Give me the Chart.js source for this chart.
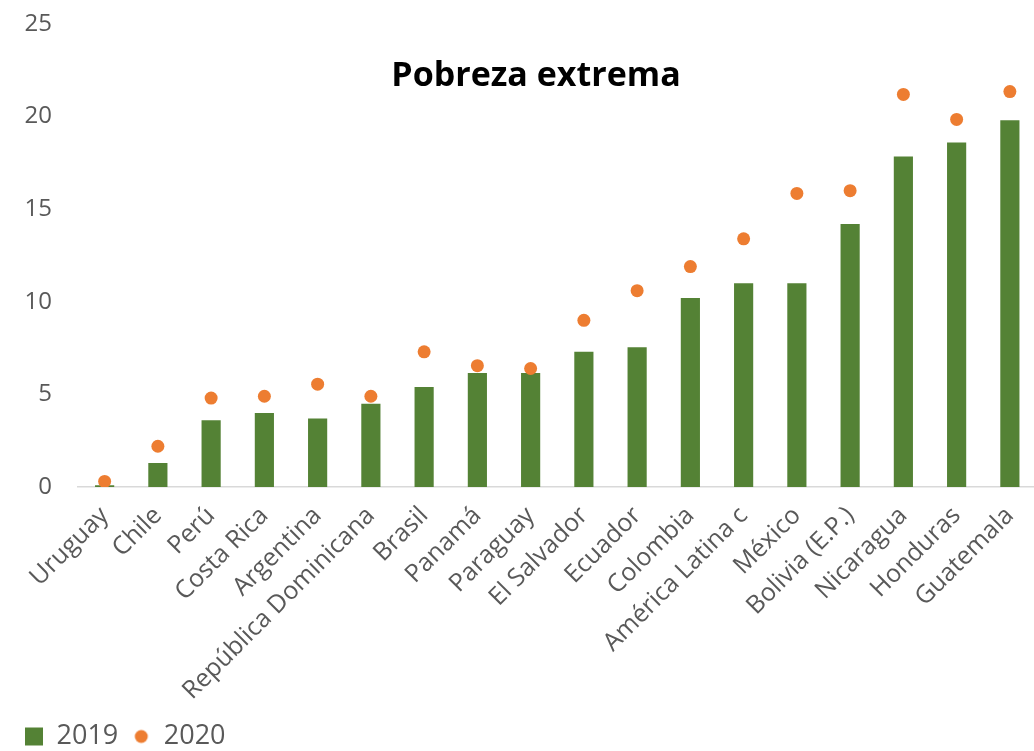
<!DOCTYPE html>
<html>
<head>
<meta charset="utf-8">
<script src="https://cdn.jsdelivr.net/npm/chart.js@4/dist/chart.umd.min.js"></script>
<style>
  html, body { margin: 0; padding: 0; background: #fff; overflow: hidden; }
  #wrap { width: 1043px; height: 751px; position: relative; }
</style>
</head>
<body>
<div id="wrap"><canvas id="chart"></canvas></div>
<script>
// Data
const countries = ["Uruguay", "Chile", "Perú", "Costa Rica", "Argentina", "República Dominicana",
  "Brasil", "Panamá", "Paraguay", "El Salvador", "Ecuador", "Colombia", "América Latina c",
  "México", "Bolivia (E.P.)", "Nicaragua", "Honduras", "Guatemala"];
const values2019 = [0.1, 1.3, 3.6, 4.0, 3.7, 4.5, 5.4, 6.15, 6.15, 7.3, 7.55, 10.2, 11.0, 11.0, 14.2, 17.85, 18.6, 19.8];
const values2020 = [0.3, 2.2, 4.8, 4.9, 5.55, 4.9, 7.3, 6.55, 6.4, 9.0, 10.6, 11.9, 13.4, 15.85, 16.0, 21.2, 19.85, 21.35];
const yTicks = [0, 5, 10, 15, 20, 25];

const green = "#548235";
const orange = "#ED7D31";
const font = "'Open Sans', sans-serif";

// Small legend markers
function marker(kind, color) {
  const c = document.createElement("canvas");
  c.width = 20; c.height = 20;
  const g = c.getContext("2d");
  g.fillStyle = color;
  if (kind === "rect") {
    g.fillRect(1, 1, 18, 18);
  } else {
    g.beginPath();
    g.arc(10, 10, 6.5, 0, Math.PI * 2);
    g.fill();
  }
  return c;
}
const markers = [marker("rect", green), marker("circle", orange)];

// Title drawn inside the plot area
const titlePlugin = {
  id: "innerTitle",
  afterDraw(chart) {
    const ctx = chart.ctx;
    ctx.save();
    ctx.font = "bold 34px " + font;
    ctx.fillStyle = "#000";
    ctx.textAlign = "center";
    ctx.textBaseline = "middle";
    ctx.fillText("Pobreza extrema", 536, 76);
    ctx.restore();
  }
};

new Chart(document.getElementById("chart"), {
  type: "bar",
  data: {
    labels: countries,
    datasets: [
      {
        label: "2019",
        data: values2019,
        backgroundColor: green,
        barPercentage: 0.72,
        categoryPercentage: 0.5,
        order: 2
      },
      {
        label: "2020",
        type: "line",
        data: values2020,
        showLine: false,
        pointStyle: "circle",
        pointRadius: 6.5,
        pointHoverRadius: 6.5,
        backgroundColor: orange,
        borderColor: orange,
        borderWidth: 0,
        order: 1
      }
    ]
  },
  options: {
    responsive: true,
    maintainAspectRatio: false,
    animation: false,
    layout: { padding: { left: 11, right: -11, top: 24, bottom: -9 } },
    plugins: {
      title: { display: false },
      tooltip: { enabled: false },
      legend: {
        position: "bottom",
        align: "start",
        labels: {
          usePointStyle: true,
          boxWidth: 18,
          boxHeight: 18,
          color: "#595959",
          font: { family: font, size: 27 },
          padding: 14,
          generateLabels(chart) {
            return chart.data.datasets.map((ds, i) => ({
              text: ds.label,
              pointStyle: markers[i],
              fillStyle: i === 0 ? green : orange,
              strokeStyle: "transparent",
              lineWidth: 0,
              fontColor: "#595959",
              datasetIndex: i
            }));
          }
        }
      }
    },
    scales: {
      x: {
        grid: { display: false, drawTicks: false },
        border: { display: true, color: "#d9d9d9", width: 1.5 },
        afterFit(axis) {
          axis.height = 222;
          axis.paddingLeft = 0;
          axis.paddingRight = 0;
        },
        ticks: {
          color: "#595959",
          font: { family: font, size: 25 },
          minRotation: 45,
          maxRotation: 45,
          autoSkip: false,
          padding: 14
        }
      },
      y: {
        min: 0,
        max: 25,
        afterBuildTicks(axis) {
          axis.ticks = yTicks.map(v => ({ value: v }));
        },
        afterFit(axis) {
          axis.width = 67;
          axis.paddingTop = 0;
          axis.paddingBottom = 0;
        },
        grid: { display: false, drawTicks: false },
        border: { display: false },
        ticks: {
          color: "#595959",
          font: { family: font, size: 24 },
          padding: 26
        }
      }
    }
  },
  plugins: [titlePlugin]
});
</script>
</body>
</html>
